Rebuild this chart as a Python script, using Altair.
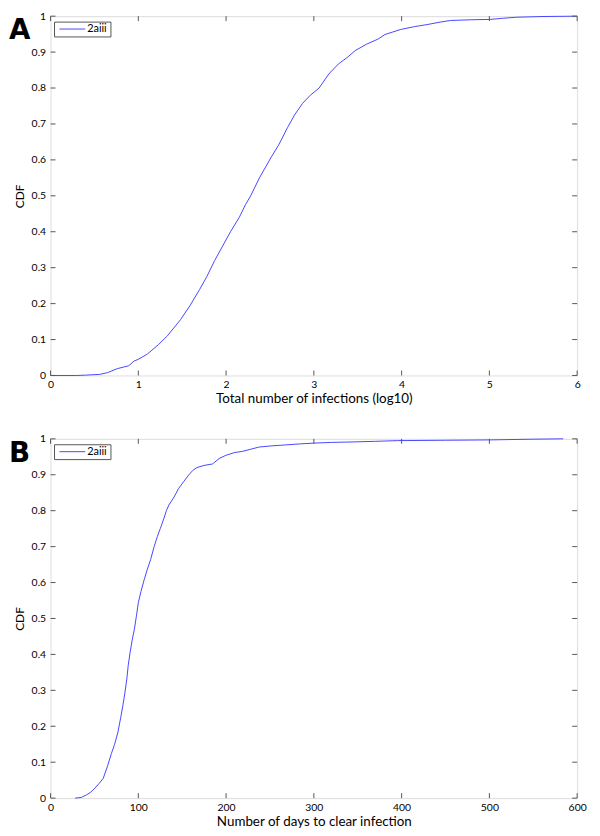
import altair as alt
import pandas as pd

# Panel A: CDF of total number of infections (log10)
xa = [0, 0.3, 0.4, 0.56, 0.65, 0.76, 0.89, 0.95, 1.0, 1.10, 1.23, 1.33, 1.48, 1.59,
      1.70, 1.78, 1.87, 1.96, 2.05, 2.15, 2.22, 2.28, 2.38, 2.45, 2.52, 2.60, 2.70,
      2.78, 2.87, 2.96, 3.06, 3.17, 3.28, 3.38, 3.47, 3.60, 3.73, 3.81, 3.90, 3.99,
      4.15, 4.30, 4.45, 4.56, 4.80, 5.01, 5.15, 5.31, 5.60, 6.0]
ya = [0, 0, 0.001, 0.003, 0.008, 0.019, 0.027, 0.04, 0.045, 0.059, 0.086, 0.11, 0.155,
      0.195, 0.24, 0.275, 0.32, 0.36, 0.40, 0.44, 0.475, 0.50, 0.55, 0.58, 0.61, 0.642,
      0.69, 0.725, 0.757, 0.78, 0.80, 0.839, 0.867, 0.885, 0.904, 0.922, 0.936, 0.949,
      0.956, 0.963, 0.971, 0.977, 0.984, 0.988, 0.99, 0.991, 0.994, 0.997, 0.999, 1.0]

# Panel B: CDF of number of days to clear infection
xb = [28, 35, 41, 46, 50.6, 55, 60, 65, 69.3, 73, 76.8, 80, 82.4, 84.5, 86.9, 88.5,
      90.6, 93, 95.5, 98, 100, 103, 106.7, 110, 114, 118, 121.7, 125, 129.2, 132,
      134.8, 140, 146, 152, 157.3, 162, 166.7, 175, 184.5, 192, 199.6, 210, 218.5,
      228, 237.3, 250, 267.5, 285, 299.4, 320, 339, 370, 395.5, 450, 501, 550, 584]
yb = [0, 0.002, 0.009, 0.017, 0.028, 0.04, 0.055, 0.09, 0.124, 0.15, 0.184, 0.225,
      0.258, 0.29, 0.332, 0.37, 0.405, 0.44, 0.47, 0.51, 0.544, 0.575, 0.608, 0.635,
      0.664, 0.70, 0.728, 0.75, 0.779, 0.80, 0.816, 0.835, 0.862, 0.882, 0.899, 0.912,
      0.92, 0.926, 0.93, 0.945, 0.954, 0.962, 0.965, 0.971, 0.977, 0.98, 0.983, 0.986,
      0.988, 0.99, 0.991, 0.993, 0.995, 0.996, 0.997, 0.999, 1.0]

series_name = "2aiii"
xticks_a = [0, 1, 2, 3, 4, 5, 6]
xticks_b = [0, 100, 200, 300, 400, 500, 600]
yticks = [0, 0.1, 0.2, 0.3, 0.4, 0.5, 0.6, 0.7, 0.8, 0.9, 1.0]

W, H = 532, 363
TL = 5
GRAY = "#555555"
BLUE = "#4747ff"
FONT = "Lato"


def panel(xs, ys, xdom, xticks, xtitle, letter, lpad, tpad):
    df = pd.DataFrame({"x": xs, "y": ys})
    xscale = alt.Scale(domain=xdom, nice=False, zero=False)
    yscale = alt.Scale(domain=[0, 1], nice=False)
    xaxis = alt.Axis(values=xticks, title=xtitle, ticks=False, domain=False,
                     grid=False, labelPadding=lpad, titlePadding=tpad,
                     labelFlush=False,
                     labelFontSize=10.5, titleFontSize=13.5,
                     labelFont=FONT, titleFont=FONT, titleFontWeight="normal",
                     labelColor="black", titleColor="black")
    yaxis = alt.Axis(values=yticks, format=".1~f", title="CDF", ticks=False,
                     domain=False, grid=False, labelPadding=5, titlePadding=5,
                     labelFlush=False,
                     labelFontSize=10.5, titleFontSize=12,
                     labelFont=FONT, titleFont=FONT, titleFontWeight="normal",
                     labelColor="black", titleColor="black")
    line = alt.Chart(df).mark_line(strokeWidth=1, color=BLUE).encode(
        x=alt.X("x:Q", scale=xscale, axis=xaxis, title=xtitle),
        y=alt.Y("y:Q", scale=yscale, axis=yaxis, title="CDF"),
    )
    xt = pd.DataFrame({"x": xticks})
    yt = pd.DataFrame({"y": yticks})
    xb_ticks = alt.Chart(xt).mark_rule(color=GRAY, strokeWidth=1).encode(
        x=alt.X("x:Q", scale=xscale, axis=xaxis, title=xtitle),
        y=alt.value(H), y2=alt.value(H - TL))
    xt_ticks = alt.Chart(xt).mark_rule(color=GRAY, strokeWidth=1).encode(
        x=alt.X("x:Q", scale=xscale, axis=xaxis, title=xtitle),
        y=alt.value(0), y2=alt.value(TL))
    yl_ticks = alt.Chart(yt).mark_rule(color=GRAY, strokeWidth=1).encode(
        y=alt.Y("y:Q", scale=yscale, axis=yaxis, title="CDF"),
        x=alt.value(0), x2=alt.value(TL))
    yr_ticks = alt.Chart(yt).mark_rule(color=GRAY, strokeWidth=1).encode(
        y=alt.Y("y:Q", scale=yscale, axis=yaxis, title="CDF"),
        x=alt.value(W - TL), x2=alt.value(W))
    # legend box (MATLAB style)
    leg = pd.DataFrame({"s": [series_name]})
    leg_box = alt.Chart(leg).mark_rect(fill="white", stroke=GRAY, strokeWidth=1).encode(
        x=alt.value(4), x2=alt.value(61), y=alt.value(6), y2=alt.value(21))
    leg_line = alt.Chart(leg).mark_rule(color=BLUE, strokeWidth=1).encode(
        x=alt.value(9), x2=alt.value(35), y=alt.value(13))
    leg_text = alt.Chart(leg).mark_text(
        align="left", baseline="middle", fontSize=11, font=FONT, color="black").encode(
        text="s:N", x=alt.value(37), y=alt.value(13.5))
    lab = alt.Chart(pd.DataFrame({"t": [letter]})).mark_text(
        align="left", baseline="top", fontSize=28, fontWeight="bold",
        font="DejaVu Sans", color="black").encode(
        text="t:N", x=alt.value(-42), y=alt.value(1))
    return alt.layer(line, xb_ticks, xt_ticks, yl_ticks, yr_ticks,
                     leg_box, leg_line, leg_text, lab).properties(width=W, height=H)


pa = panel(xa, ya, [0, 6], xticks_a, "Total number of infections (log10)", "A", 4.5, 1)
pb = panel(xb, yb, [0, 600], xticks_b, "Number of days to clear infection", "B", 5, 1.5)

chart = alt.vconcat(pa, pb, spacing=28).properties(
    padding={"left": 0, "top": -2, "right": 5, "bottom": 2}
).configure_view(stroke=GRAY, strokeWidth=1).configure(background="white")

chart.save("out.html", embed_options={"renderer": "svg", "actions": False})
